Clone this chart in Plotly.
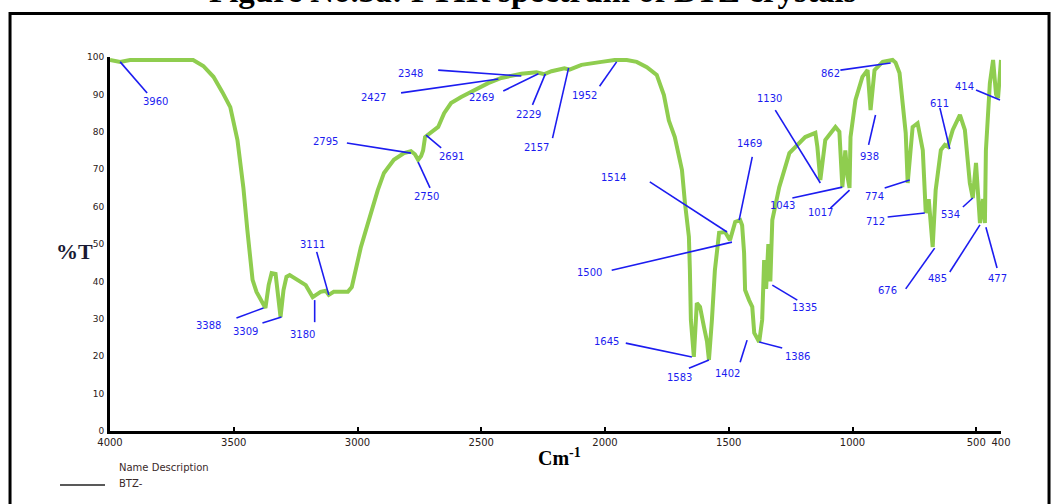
import plotly.graph_objects as go

# ---- spectrum data (wavenumber cm-1, %T) ----
wavenumber = [4000, 3959, 3919, 3664, 3623, 3582, 3546, 3514, 3485, 3461, 3445, 3424, 3408, 3388,
              3372, 3359, 3347, 3331, 3323, 3311, 3299, 3287, 3274, 3242, 3209, 3181, 3149, 3128,
              3116, 3096, 3039, 3023, 3003, 2987, 2966, 2938, 2918, 2893, 2853, 2812, 2784, 2768,
              2755, 2743, 2735, 2727, 2703, 2674, 2650, 2622, 2581, 2529, 2472, 2419, 2338, 2277,
              2245, 2216, 2164, 2143, 2095, 2014, 1961, 1912, 1872, 1831, 1791, 1762, 1742, 1718,
              1689, 1677, 1661, 1657, 1653, 1641, 1633, 1629, 1616, 1608, 1600, 1588, 1580, 1568,
              1556, 1539, 1515, 1495, 1474, 1454, 1446, 1438, 1434, 1418, 1405, 1397, 1377, 1365,
              1357, 1349, 1340, 1332, 1324, 1296, 1255, 1191, 1150, 1142, 1130, 1110, 1069, 1053,
              1041, 1029, 1020, 1012, 1008, 988, 960, 939, 927, 911, 878, 838, 826, 810, 785, 777,
              757, 737, 716, 704, 692, 676, 664, 643, 627, 615, 595, 566, 546, 526, 514, 501, 493,
              485, 473, 465, 461, 445, 432, 420, 412, 404, 400]
transmittance = [99.2, 98.7, 99.2, 99.2, 97.6, 94.7, 90.6, 86.6, 77.8, 65.0, 53.7, 40.4, 37.2, 35.0,
                 32.9, 39.0, 42.2, 42.0, 37.7, 30.5, 37.7, 41.2, 41.7, 40.4, 39.0, 35.8, 37.2, 37.5,
                 36.4, 37.2, 37.2, 38.5, 44.4, 49.0, 53.7, 60.0, 64.4, 69.0, 72.5, 74.3, 74.8, 74.0,
                 72.5, 73.5, 75.0, 78.6, 79.7, 81.3, 85.0, 87.7, 89.3, 91.2, 93.0, 94.4, 95.5, 95.9,
                 95.4, 96.2, 97.0, 96.6, 97.9, 98.7, 99.2, 99.2, 98.7, 97.3, 95.2, 89.8, 83.0, 78.6,
                 69.8, 61.0, 51.9, 43.0, 29.7, 19.8, 30.0, 34.2, 33.2, 30.0, 27.8, 24.0, 19.0, 29.7,
                 43.0, 53.0, 53.2, 51.0, 55.9, 56.4, 55.0, 47.6, 37.7, 35.0, 33.2, 26.2, 23.8, 29.7,
                 45.7, 38.0, 50.0, 40.0, 56.4, 65.2, 74.3, 78.6, 79.7, 76.0, 67.1, 77.8, 81.3, 80.0,
                 65.2, 75.0, 68.0, 65.0, 78.6, 88.5, 94.7, 96.5, 85.8, 96.5, 98.7, 99.2, 98.5, 95.7,
                 79.7, 66.3, 81.3, 82.3, 75.1, 58.3, 62.0, 49.2, 64.4, 75.1, 76.5, 76.0, 80.5, 84.5,
                 80.5, 66.3, 62.3, 71.7, 65.0, 55.6, 62.0, 55.6, 75.0, 93.0, 99.2, 90.0, 89.0, 99.2,
                 99.2]

# ---- peak labels ----
peak_labels = ["3960", "3388", "3309", "3180", "3111", "2795", "2750", "2691", "2348", "2427",
               "2269", "2229", "2157", "1952", "1514", "1500", "1469", "1645", "1583", "1402",
               "1386", "1335", "1130", "1043", "1017", "862", "938", "774", "712", "676", "534",
               "485", "477", "611", "414"]
label_wn = [3818, 3603, 3453, 3222, 3181, 3128, 2723, 2622, 2784, 2934, 2500, 2310, 2277, 2082,
            1965, 2062, 1418, 1993, 1697, 1507, 1223, 1195, 1337, 1284, 1130, 1089, 931, 911, 907,
            858, 603, 656, 416, 647, 546]
label_t = [88.2, 28.3, 26.5, 25.9, 50.0, 77.3, 62.6, 73.3, 95.7, 89.3, 89.3, 84.5, 75.9, 89.8,
           67.9, 42.5, 77.0, 23.8, 14.4, 15.5, 19.8, 32.9, 88.8, 60.2, 58.3, 95.7, 73.5, 62.6, 56.1,
           37.7, 58.0, 40.9, 40.9, 87.7, 92.2]
leader_start_wn = [3959, 3489, 3384, 3173, 3165, 3043, 2755, 2723, 2674, 2824, 2411, 2293, 2212,
                   2022, 1819, 1973, 1405, 1916, 1661, 1454, 1284, 1324, 1312, 1243, 1089, 1049,
                   935, 870, 858, 785, 554, 607, 416, 647, 501]
leader_start_t = [98.7, 30.2, 28.9, 29.1, 47.9, 77.0, 71.9, 79.1, 96.5, 90.4, 90.9, 87.2, 78.3,
                  92.2, 66.6, 43.0, 73.3, 23.5, 16.8, 18.4, 22.2, 39.0, 85.8, 62.3, 59.6, 96.5,
                  76.5, 65.0, 57.2, 38.0, 59.9, 42.5, 43.6, 86.4, 91.2]
leader_end_wn = [3850, 3380, 3307, 3173, 3116, 2784, 2707, 2662, 2338, 2431, 2269, 2241, 2147,
                 1953, 1507, 1487, 1458, 1649, 1580, 1426, 1377, 1223, 1130, 1041, 1012, 846, 907,
                 769, 708, 668, 514, 485, 461, 607, 404]
leader_end_t = [90.4, 32.9, 30.5, 35.0, 36.4, 74.3, 65.0, 75.7, 94.9, 94.1, 95.5, 95.5, 97.1,
                98.7, 53.2, 50.5, 56.4, 19.8, 19.0, 24.3, 23.8, 35.0, 66.3, 65.2, 64.4, 98.4,
                84.5, 67.1, 58.3, 48.9, 62.3, 55.1, 54.5, 75.4, 88.5]

x_ticks = [4000, 3500, 3000, 2500, 2000, 1500, 1000, 500, 400]
x_ticklabels = ["4000", "3500", "3000", "2500", "2000", "1500", "1000", "500", "400"]
y_ticks = [0, 10, 20, 30, 40, 50, 60, 70, 80, 90, 100]

BLUE = "#1c1cf0"
GREEN = "#8fcd4f"
TICKCOL = "#2a2018"

fig = go.Figure()

fig.add_trace(go.Scatter(x=wavenumber, y=transmittance, mode="lines",
                         line=dict(color=GREEN, width=4), hoverinfo="skip", showlegend=False))

lx, ly = [], []
for a, b, c, d in zip(leader_start_wn, leader_start_t, leader_end_wn, leader_end_t):
    lx += [a, c, None]
    ly += [b, d, None]
fig.add_trace(go.Scatter(x=lx, y=ly, mode="lines", line=dict(color=BLUE, width=1.6),
                         hoverinfo="skip", showlegend=False))

annotations = []
for lab, xw, yt in zip(peak_labels, label_wn, label_t):
    annotations.append(dict(x=xw, y=yt, xref="x", yref="y", text=lab, showarrow=False,
                            xanchor="center", yanchor="middle",
                            font=dict(family="DejaVu Sans", size=10, color=BLUE)))

# title (cut at top), axis titles, legend text
annotations += [
    dict(x=0.4747, y=1.1257, xref="paper", yref="paper",
         text="<b>Figure No.3a: FTIR spectrum of BTZ crystals</b>",
         showarrow=False, xanchor="center", yanchor="bottom", borderpad=0,
         font=dict(family="Liberation Serif", size=33, color="#000")),
    dict(x=-0.0168, y=0.479, xref="paper", yref="paper", text="<b>%T</b>", showarrow=False,
         xanchor="right", yanchor="middle",
         font=dict(family="Liberation Serif", size=22, color="#1a1a33")),
    dict(x=0.505, y=-0.0695, xref="paper", yref="paper", text="<b>Cm<sup>-1</sup></b>", showarrow=False,
         xanchor="center", yanchor="middle",
         font=dict(family="Liberation Serif", size=20, color="#000")),
    dict(x=0.0079, y=-0.0963, xref="paper", yref="paper", text="Name Description", showarrow=False,
         xanchor="left", yanchor="middle", font=dict(family="DejaVu Sans", size=10, color="#3a2a2a")),
    dict(x=0.0079, y=-0.1417, xref="paper", yref="paper", text="BTZ-", showarrow=False,
         xanchor="left", yanchor="middle", font=dict(family="DejaVu Sans", size=10, color="#3a2a2a")),
]

shapes = [
    # outer frame
    dict(type="rect", xref="paper", yref="paper", x0=-0.1122, x1=1.0539, y0=-0.4, y1=1.1163,
         line=dict(color="#000", width=3), layer="above"),
    # legend line sample
    dict(type="line", xref="paper", yref="paper", x0=-0.0561, x1=-0.0056, y0=-0.1444, y1=-0.1444,
         line=dict(color="#222", width=1.5)),
]

fig.update_layout(
    width=1054, height=504,
    margin=dict(l=110, r=53, t=57, b=73),
    paper_bgcolor="white", plot_bgcolor="white",
    annotations=annotations, shapes=shapes,
    xaxis=dict(range=[4000, 400], tickvals=x_ticks, ticktext=x_ticklabels,
               showgrid=False, zeroline=False, showline=True, linecolor="#000", linewidth=3,
               ticks="inside", ticklen=4, tickwidth=2, tickcolor="#000",
               tickfont=dict(family="DejaVu Sans", size=10, color=TICKCOL)),
    yaxis=dict(range=[0, 100], tickvals=y_ticks, showgrid=False, zeroline=False,
               showline=True, linecolor="#000", linewidth=3, ticks="", ticklabelstandoff=1,
               tickfont=dict(family="DejaVu Sans", size=9, color=TICKCOL)),
)

fig.write_html("out.html", config={"displayModeBar": False},
               post_script="document.body.style.margin='0';")
